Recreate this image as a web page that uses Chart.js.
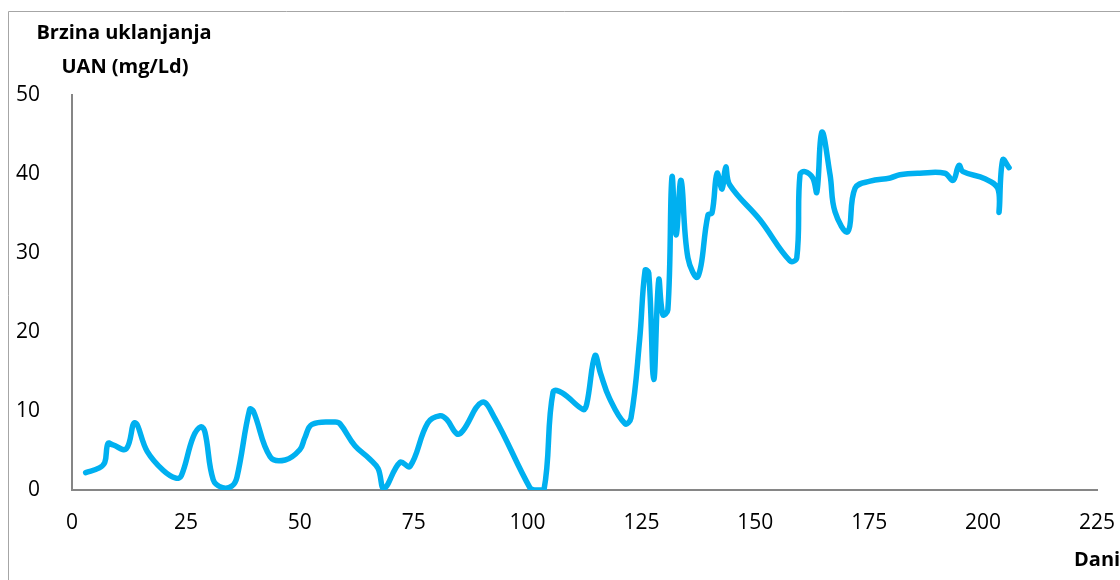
<!DOCTYPE html>
<html>
<head>
<meta charset="utf-8">
<script src="https://cdn.jsdelivr.net/npm/chart.js@4"></script>
<style>
  body { margin: 0; background: #fff; }
  #wrap { width: 1120px; height: 580px; position: relative; }
</style>
</head>
<body>
<div id="wrap"><canvas id="chart" width="1120" height="580"></canvas></div>
<script>
// days and removal rate
const days = [3, 6, 7.2, 7.9, 9, 11.9, 13.8, 16.5, 20, 22.8, 24, 26.6, 28.3, 29.2, 31, 33, 35.1, 36.2, 39, 39.8,
  43.5, 46.8, 50, 51.1, 52.7, 57.7, 58.8, 62.1, 65.4, 67.2, 68.5, 72, 74.2, 78.1, 80.8, 82.3, 84.5, 85.8, 90, 92.8,
  100.5, 101.6, 103.6, 105.6, 107.6, 112.2, 113, 114.8, 116, 118, 121.4, 122.7, 124.6, 125.8, 126.6, 127.7, 128.8,
  129.7, 130.8, 131.7, 132.6, 133.7, 135.2, 137.4, 139.6, 140.5, 141.6, 142.7, 143.5, 144.4, 151, 157.6, 159.1,
  159.8, 160.9, 162.6, 163.5, 164.6, 166.4, 167.5, 170.3, 171.9, 175.2, 179.6, 181.7, 186.1, 191.6, 193.4, 194.7,
  195.6, 200.4, 203.2, 203.5, 204.3, 205.7];
const rate = [2.2, 2.8, 3.5, 5.9, 5.7, 5.2, 8.5, 4.9, 2.5, 1.5, 1.8, 6.7, 8.0, 7.3, 1.3, 0.3, 0.5, 1.6, 10.2, 10.0,
  4.2, 3.8, 5.1, 6.6, 8.3, 8.6, 8.4, 5.6, 3.9, 2.7, 0.2, 3.5, 3.0, 8.5, 9.4, 8.9, 7.1, 7.5, 11.1, 9.1,
  0.3, 0, 0, 12.4, 12.3, 10.2, 10.9, 17.0, 14.8, 11.6, 8.4, 9.1, 19.0, 27.8, 27.5, 14.0, 26.6,
  22.2, 22.8, 39.6, 32.3, 39.2, 29.4, 27.0, 34.8, 35.1, 40.1, 38.1, 40.9, 38.6, 34.2, 29.0, 29.4,
  39.9, 40.3, 39.5, 37.7, 45.3, 39.9, 35.2, 32.7, 38.2, 39.1, 39.5, 39.9, 40.1, 40.1, 39.2, 41.1,
  40.3, 39.4, 38.2, 35.2, 41.8, 40.8];

const yTitle = ["Brzina uklanjanja", "UAN (mg/Ld)"];
const xTitle = "Dani";

const points = days.map((d, i) => ({ x: d, y: rate[i] }));

// frame and axis titles drawn on top
const extras = {
  id: "extras",
  afterDraw(chart) {
    const ctx = chart.ctx;
    ctx.save();
    ctx.strokeStyle = "#a6a6a6";
    ctx.lineWidth = 1;
    ctx.beginPath();
    ctx.moveTo(8.5, 580);
    ctx.lineTo(8.5, 11.5);
    ctx.lineTo(1120, 11.5);
    ctx.stroke();
    ctx.fillStyle = "#000";
    ctx.font = "bold 20px 'Open Sans'";
    ctx.textAlign = "center";
    ctx.textBaseline = "middle";
    ctx.fillText(yTitle[0], 124, 33);
    ctx.fillText(yTitle[1], 125, 67);
    ctx.textAlign = "left";
    ctx.fillText(xTitle, 1074, 560);
    ctx.restore();
  }
};

new Chart(document.getElementById("chart"), {
  type: "scatter",
  data: {
    datasets: [{
      data: points,
      showLine: true,
      borderColor: "#00b0f0",
      borderWidth: 5.5,
      pointRadius: 0,
      tension: 0.4,
      borderCapStyle: "round",
      borderJoinStyle: "round"
    }]
  },
  options: {
    responsive: false,
    animation: false,
    layout: { padding: { top: 95, right: 0, left: 0, bottom: 0 } },
    plugins: { legend: { display: false }, tooltip: { enabled: false } },
    scales: {
      x: {
        min: 0, max: 225,
        ticks: { stepSize: 25, color: "#000", font: { family: "Open Sans", size: 21 }, padding: 12, maxRotation: 0 },
        grid: { display: false },
        border: { display: true, color: "#868686", width: 2 },
        afterFit(s) { s.height = 90; s.paddingRight = 23; s.paddingLeft = 0; }
      },
      y: {
        min: 0, max: 50,
        ticks: { stepSize: 10, color: "#000", font: { family: "Open Sans", size: 21 }, padding: 24 },
        grid: { display: false },
        border: { display: true, color: "#868686", width: 2 },
        afterFit(s) { s.width = 72; s.paddingTop = 0; s.paddingBottom = 0; }
      }
    }
  },
  plugins: [extras]
});
</script>
</body>
</html>
